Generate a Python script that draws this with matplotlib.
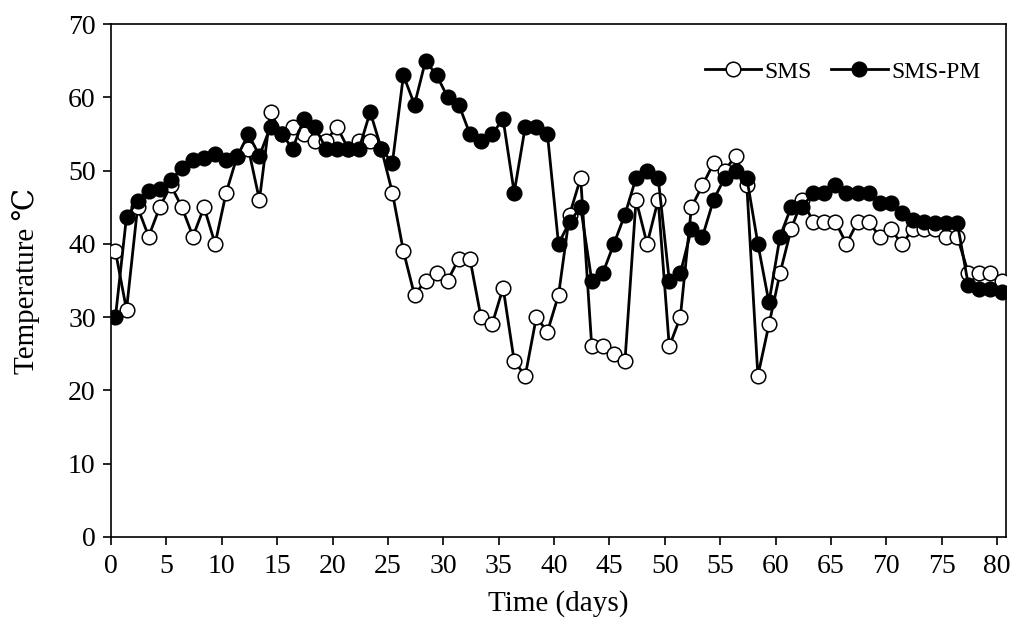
import numpy as np
import matplotlib
matplotlib.use("Agg")
import matplotlib.pyplot as plt

# Day index of each measurement (81 daily readings) and x-offset of the plotted points
day_index = np.arange(81)
time_days = day_index + 0.4

sms = [39, 31, 45, 41, 45, 48, 45, 41, 45, 40,
       47, 52, 53, 46, 58, 55, 56, 55, 54, 54,
       56, 53, 54, 54, 53, 47, 39, 33, 35, 36,
       35, 38, 38, 30, 29, 34, 24, 22, 30, 28,
       33, 44, 49, 26, 26, 25, 24, 46, 40, 46,
       26, 30, 45, 48, 51, 50, 52, 48, 22, 29,
       36, 42, 46, 43, 43, 43, 40, 43, 43, 41,
       42, 40, 42, 42, 42, 41, 41, 36, 36, 36,
       35]

sms_pm = [30, 43.7, 45.8, 47.2, 47.5, 48.7, 50.3, 51.4, 51.7, 52.3,
          51.4, 51.9, 55, 52, 56, 55, 53, 57, 56, 53,
          53, 53, 53, 58, 53, 51, 63, 59, 65, 63,
          60, 59, 55, 54, 55, 57, 47, 56, 56, 55,
          40, 43, 45, 35, 36, 40, 44, 49, 50, 49,
          35, 36, 42, 41, 46, 49, 50, 49, 40, 32,
          41, 45, 45, 47, 47, 48, 47, 47, 47, 45.6,
          45.6, 44.2, 43.2, 43.0, 42.9, 42.9, 42.9, 34.4, 33.9, 33.9,
          33.4]

x_ticks = list(range(0, 81, 5))
y_ticks = list(range(0, 71, 10))

plt.rcParams['font.family'] = ['Liberation Serif', 'DejaVu Serif']

fig = plt.figure(figsize=(10.21, 6.26), dpi=100)
ax = fig.add_axes([111/1021, 1-537/626, (1006-111)/1021, (537-24)/626])

ax.plot(time_days, sms, '-o', color='black', lw=2.0, ms=10.5,
        markerfacecolor='white', markeredgecolor='black', mew=1.1,
        label='SMS', zorder=3)
ax.plot(time_days, sms_pm, '-o', color='black', lw=2.0, ms=10.5,
        markerfacecolor='black', markeredgecolor='black', mew=1.1,
        label='SMS-PM', zorder=4)

ax.set_xlim(0, 80.8)
ax.set_ylim(0, 70)
ax.set_xticks(x_ticks)
ax.set_yticks(y_ticks)
ax.tick_params(axis='both', direction='out', length=6, width=1.2,
               labelsize=20, colors='black')
ax.tick_params(axis='x', pad=6)
ax.tick_params(axis='y', pad=5)
for s in ax.spines.values():
    s.set_linewidth(1.2)
    s.set_color('black')

ax.set_xlabel('Time (days)', fontsize=21, labelpad=8)
ax.set_ylabel('Temperature ℃', fontsize=21, labelpad=20)

leg = ax.legend(loc='upper right', ncol=2, frameon=False, fontsize=17,
                handlelength=2.4, handletextpad=0.15, columnspacing=0.8,
                bbox_to_anchor=(0.99, 0.96), borderaxespad=0.3)

fig.savefig('out.png', dpi=100)
